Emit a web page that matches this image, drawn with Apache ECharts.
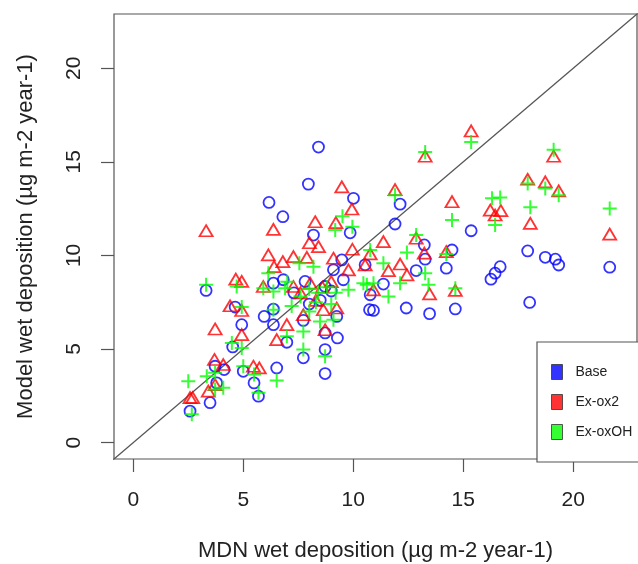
<!DOCTYPE html>
<html>
<head>
<meta charset="utf-8">
<script src="https://cdn.jsdelivr.net/npm/echarts@6/dist/echarts.min.js"></script>
<style>
  html, body { margin: 0; padding: 0; background: #fff; }
  #chart { width: 638px; height: 564px; }
</style>
</head>
<body>
<div id="chart"></div>
<script>
// MDN observed vs model wet deposition, one point per site
const base = [
  [8.42, 15.79], [7.96, 13.81], [10.01, 13.05], [6.17, 12.83], [6.80, 12.07], [8.19, 11.09], [9.86, 11.21],
  [9.48, 9.76], [10.54, 9.50], [9.10, 9.23], [3.31, 8.13], [6.82, 8.70], [6.37, 8.52], [7.81, 8.61],
  [8.72, 8.34], [9.55, 8.70], [10.77, 7.90], [4.63, 7.24], [4.93, 6.30], [5.95, 6.74], [6.37, 7.13],
  [6.37, 6.30], [7.73, 6.53], [9.25, 6.74], [8.72, 5.86], [9.28, 5.59], [10.74, 7.10], [4.52, 5.11],
  [6.98, 5.36], [7.73, 4.53], [8.72, 4.97], [8.72, 3.69], [3.72, 4.08], [4.13, 3.90], [5.00, 3.81],
  [6.52, 3.99], [5.49, 3.19], [5.69, 2.48], [3.79, 3.19], [3.49, 2.13], [2.58, 1.68],
  [15.36, 11.32], [12.13, 12.74], [11.90, 11.68], [13.23, 10.56], [13.27, 9.80], [14.49, 10.29],
  [14.23, 9.32], [17.93, 10.24], [18.73, 9.90], [19.19, 9.80], [19.34, 9.49], [21.66, 9.37],
  [16.68, 9.40], [16.45, 9.05], [16.26, 8.73], [18.02, 7.49], [12.86, 9.19], [11.37, 8.47],
  [14.64, 7.14], [13.47, 6.89], [12.41, 7.19], [10.92, 7.06],
  [8.5, 7.6], [9.0, 8.1], [7.3, 8.0], [8.0, 7.4]
];
const exOx2 = [
  [9.48, 13.66], [9.94, 12.48], [8.27, 11.80], [9.21, 11.75], [3.31, 11.32], [6.37, 11.39], [8.01, 10.68],
  [8.42, 10.47], [9.96, 10.33], [6.14, 10.03], [6.80, 9.67], [7.28, 9.94], [7.89, 9.90], [9.10, 9.85],
  [10.54, 9.49], [6.40, 9.40], [9.78, 9.23], [4.66, 8.73], [4.93, 8.61], [7.28, 8.34], [5.91, 8.34],
  [8.04, 8.52], [4.40, 7.31], [4.93, 7.06], [6.98, 6.30], [7.73, 6.83], [8.64, 7.10], [9.25, 7.19],
  [8.72, 6.03], [3.72, 6.07], [4.93, 5.77], [6.52, 5.50], [3.69, 4.44], [4.09, 4.17], [5.46, 4.08],
  [5.73, 3.99], [3.72, 3.10], [3.41, 2.75], [2.58, 2.40], [2.70, 2.40],
  [15.36, 16.65], [13.27, 15.30], [19.11, 15.30], [17.93, 14.07], [18.73, 13.93], [19.34, 13.45],
  [16.23, 12.42], [16.71, 12.39], [16.45, 12.16], [18.05, 11.71], [21.66, 11.14], [14.49, 12.87],
  [11.90, 13.52], [11.37, 10.74], [10.77, 10.08], [12.86, 10.92], [13.23, 10.12], [14.23, 10.20],
  [12.13, 9.54], [11.60, 9.19], [12.44, 8.96], [13.47, 7.95], [14.64, 8.13], [10.92, 8.16],
  [8.6, 8.3], [9.0, 8.6], [7.6, 8.0], [8.3, 7.6]
];
const exOxOH = [
  [9.51, 12.10], [9.96, 11.53], [9.18, 11.36], [7.55, 9.58], [8.19, 9.40], [6.14, 9.05], [3.31, 8.43],
  [4.70, 8.34], [6.37, 8.07], [9.78, 8.16], [10.62, 8.43], [4.93, 7.24], [8.49, 6.47], [7.73, 5.94],
  [4.48, 5.32], [4.93, 5.06], [6.98, 5.68], [7.73, 4.97], [8.72, 4.61], [3.72, 3.73], [3.34, 3.55],
  [5.49, 3.64], [6.52, 3.32], [2.50, 3.28], [4.09, 2.93], [2.66, 1.51], [5.69, 2.66], [5.00, 4.08],
  [3.72, 2.84], [5.91, 8.25], [6.90, 8.25], [6.37, 7.10], [9.10, 6.57],
  [15.36, 16.06], [13.27, 15.53], [19.11, 15.65], [17.93, 13.84], [18.73, 13.58], [19.34, 13.22],
  [16.31, 13.05], [16.68, 13.10], [16.45, 11.62], [18.05, 12.57], [21.66, 12.51], [14.49, 11.89],
  [11.90, 13.22], [10.77, 10.29], [12.86, 11.09], [12.44, 10.15], [14.23, 10.08], [11.37, 9.58],
  [12.13, 8.52], [13.27, 9.05], [13.42, 8.43], [14.64, 8.25], [10.46, 8.52], [10.92, 8.52], [11.60, 7.81],
  [7.0, 8.6], [8.0, 8.2], [8.4, 8.0], [8.8, 8.3], [9.2, 8.0], [7.6, 7.8], [8.3, 7.5], [9.0, 7.4], [7.2, 7.3], [8.0, 7.0]
];
const tickValues = [0, 5, 10, 15, 20];
const diagonal = [-1, 25];   // 1:1 line

const axisMin = -0.877;
const axisMax = 22.9;
const font = 'Liberation Sans, Arial, sans-serif';

const chart = echarts.init(document.getElementById('chart'));

function hollow(color) {
  return { color: 'rgba(0,0,0,0)', borderColor: color, borderWidth: 1.8 };
}

const option = {
  animation: false,
  backgroundColor: '#fff',
  grid: {
    left: 114, right: 1, top: 14, bottom: 105,
    outerBoundsMode: 'none',
    show: true, borderColor: '#555', borderWidth: 1.2, backgroundColor: 'transparent'
  },
  legend: {
    orient: 'vertical',
    left: 537, top: 342,
    padding: [22, 40, 22, 14],
    itemWidth: 11, itemHeight: 15, itemGap: 14,
    borderColor: '#555', borderWidth: 1.2,
    backgroundColor: '#fff',
    textStyle: { fontFamily: font, fontSize: 14, color: '#222', padding: [0, 0, 0, 8] },
    data: [
      { name: 'Base', icon: 'rect', itemStyle: { color: '#0000ff', borderColor: '#333', borderWidth: 1 } },
      { name: 'Ex-ox2', icon: 'rect', itemStyle: { color: '#ff0000', borderColor: '#333', borderWidth: 1 } },
      { name: 'Ex-oxOH', icon: 'rect', itemStyle: { color: '#00ff00', borderColor: '#333', borderWidth: 1 } }
    ]
  },
  xAxis: {
    type: 'value', min: axisMin, max: axisMax,
    name: 'MDN wet deposition (µg m-2 year-1)',
    nameLocation: 'middle', nameGap: 81,
    nameTextStyle: { fontFamily: font, fontSize: 22, color: '#222' },
    axisLine: { show: false, onZero: false },
    splitLine: { show: false },
    axisTick: { show: true, customValues: tickValues, length: 13, lineStyle: { color: '#555', width: 1.2 } },
    axisLabel: { customValues: tickValues, margin: 31, fontFamily: font, fontSize: 21, color: '#222' }
  },
  yAxis: {
    type: 'value', min: axisMin, max: axisMax,
    name: 'Model wet deposition (µg m-2 year-1)',
    nameLocation: 'middle', nameGap: 77,
    nameTextStyle: { fontFamily: font, fontSize: 22, color: '#222' },
    axisLine: { show: false, onZero: false },
    splitLine: { show: false },
    axisTick: { show: true, customValues: tickValues, length: 13, lineStyle: { color: '#555', width: 1.2 } },
    axisLabel: { customValues: tickValues, rotate: 90, margin: 29, fontFamily: font, fontSize: 21, color: '#222' }
  },
  series: [
    {
      type: 'line', name: '1:1', silent: true, symbol: 'none',
      data: diagonal.map(v => [v, v]),
      lineStyle: { color: '#555', width: 1.3 }, z: 1
    },
    {
      type: 'scatter', name: 'Base', data: base,
      symbol: 'circle', symbolSize: 11,
      itemStyle: hollow('#0000ff')
    },
    {
      type: 'scatter', name: 'Ex-ox2', data: exOx2,
      symbol: 'triangle', symbolSize: [13, 11],
      itemStyle: hollow('#ff0000')
    },
    {
      type: 'scatter', name: 'Ex-oxOH', data: exOxOH,
      symbol: 'path://M5,0L5,10M0,5L10,5', symbolSize: 14,
      itemStyle: { color: 'rgba(0,0,0,0)', borderColor: '#00ff00', borderWidth: 2 }
    }
  ]
};

chart.setOption(option);
</script>
</body>
</html>
